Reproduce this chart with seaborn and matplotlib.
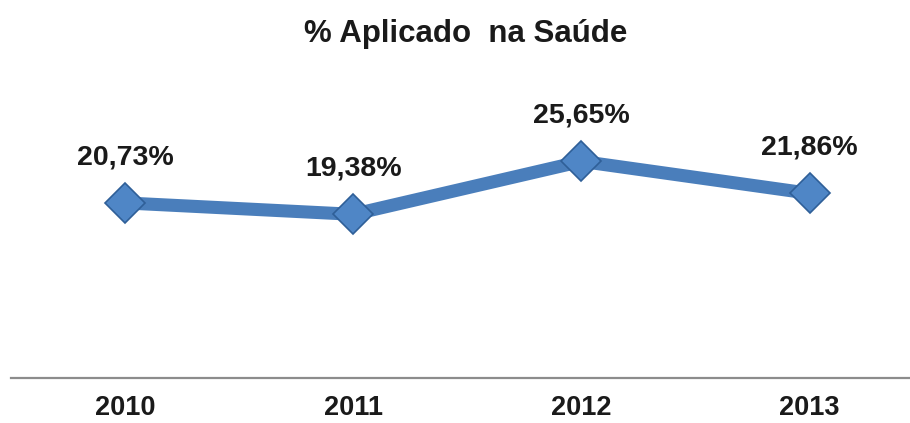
import matplotlib
matplotlib.use("Agg")
import matplotlib.pyplot as plt
import seaborn as sns

# dados
anos = ["2010", "2011", "2012", "2013"]
percentuais = [20.73, 19.38, 25.65, 21.86]
rotulos = ["20,73%", "19,38%", "25,65%", "21,86%"]

sns.set_style("white")
plt.rcParams['font.family'] = ['Liberation Sans', 'DejaVu Sans']

fig = plt.figure(figsize=(9.1, 4.23), dpi=100)
ax = fig.add_axes([11 / 910, 0.1064, 899 / 910, 0.599])

azul = '#4A7EBB'
sns.lineplot(x=anos, y=percentuais, sort=False, ax=ax, color=azul, linewidth=9.4,
             marker='D', markersize=20, markerfacecolor='#4F86C6',
             markeredgecolor='#2F5F98', markeredgewidth=1.2)

for i, (v, txt) in enumerate(zip(percentuais, rotulos)):
    ax.annotate(txt, (i, v), xytext=(0, 33), textcoords='offset points',
                ha='center', va='center', fontsize=20.5, fontweight='bold',
                color='#1a1a1a', annotation_clip=False)

ax.set_xlim(-0.5, 3.44)
ax.set_ylim(0, 30)
ax.set_yticks([])
ax.set_xlabel('')
ax.set_ylabel('')
for s in ['left', 'top', 'right']:
    ax.spines[s].set_visible(False)
ax.spines['bottom'].set_color('#8c8c8c')
ax.spines['bottom'].set_linewidth(1.6)
ax.tick_params(axis='x', length=0, pad=12, labelsize=19.5, labelcolor='#1a1a1a')
for lbl in ax.get_xticklabels():
    lbl.set_fontweight('bold')

fig.text(0.512, 0.92, '% Aplicado  na Saúde', ha='center', va='center',
         fontsize=22.5, fontweight='bold', color='#1a1a1a')

fig.savefig('out.png', dpi=100)
